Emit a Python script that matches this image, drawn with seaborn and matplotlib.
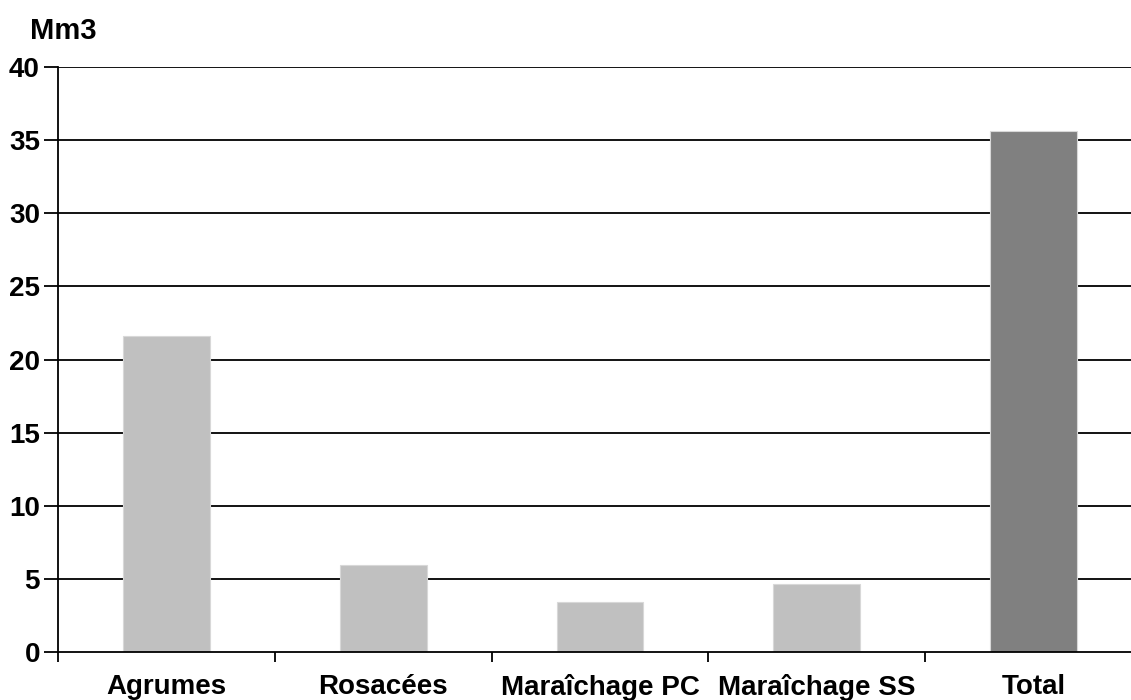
import numpy as np
import pandas as pd
import matplotlib
matplotlib.use("Agg")
import matplotlib.pyplot as plt
import seaborn as sns

# Data (volumes in Mm3)
categories = ["Agrumes", "Rosacées", "Maraîchage PC", "Maraîchage SS", "Total"]
volumes = [21.6, 5.95, 3.45, 4.65, 35.6]
bar_colors = ["#c0c0c0", "#c0c0c0", "#c0c0c0", "#c0c0c0", "#808080"]
y_ticks = [0, 5, 10, 15, 20, 25, 30, 35, 40]

df = pd.DataFrame({"culture": categories, "volume": volumes})

sns.set_theme(style="white")
plt.rcParams["font.family"] = ["Liberation Sans", "DejaVu Sans"]
plt.rcParams["font.weight"] = "bold"

fig = plt.figure(figsize=(11.31, 7.0), dpi=100)
ax = fig.add_axes([58 / 1131, 1 - 652 / 700, (1142 - 58) / 1131, (652 - 67) / 700])

sns.barplot(data=df, x="culture", y="volume", hue="culture",
            palette=bar_colors, width=0.4, legend=False, ax=ax,
            edgecolor="#d8d8d8", linewidth=0.8, zorder=3)

ax.set_xlim(-0.5, len(categories) - 0.5)
ax.set_ylim(0, 40)
ax.set_yticks(y_ticks)
ax.set_yticklabels([str(t) for t in y_ticks], fontsize=20, fontweight="bold")

# horizontal gridlines behind the bars
for t in y_ticks[1:]:
    ax.axhline(t, color="black", linewidth=1.3, zorder=1)

# category labels at centers, tick marks at boundaries
ax.set_xticks(range(len(categories)))
ax.set_xticklabels(categories, fontsize=20, fontweight="bold")
ax.set_xticks(np.arange(-0.5, len(categories), 1.0), minor=True)
ax.tick_params(axis="x", which="major", length=0, pad=16, colors="black")
ax.tick_params(axis="x", which="minor", length=7, width=1.3, direction="out",
               color="black", bottom=True)
ax.tick_params(axis="y", which="major", length=10, width=1.3, direction="out",
               color="black", left=True, pad=3, labelcolor="black")

ax.set_xlabel("")
ax.set_ylabel("")

for side in ["top", "right"]:
    ax.spines[side].set_visible(False)
for side in ["left", "bottom"]:
    ax.spines[side].set_color("black")
    ax.spines[side].set_linewidth(1.3)
    ax.spines[side].set_zorder(4)

fig.text(30 / 1131, 1 - 39 / 700, "Mm3", fontsize=21, fontweight="bold",
         ha="left", va="baseline", color="black")

fig.savefig("out.png", dpi=100)
